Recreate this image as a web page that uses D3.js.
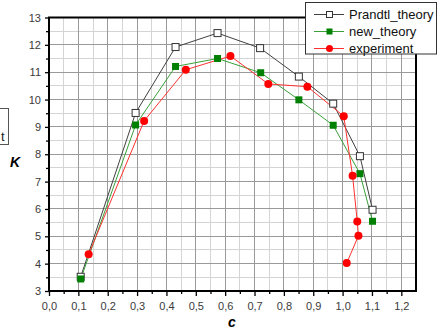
<!DOCTYPE html>
<html><head><meta charset="utf-8">
<script src="https://cdn.jsdelivr.net/npm/d3@7/dist/d3.min.js"></script>
<style>body{margin:0;background:#fff;overflow:hidden}svg{display:block}</style>
</head><body>
<svg id="chart" width="439" height="331"></svg>
<script>
const seriesNames = ["Prandtl_theory", "new_theory", "experiment"];
const prandtlC = [0.108, 0.295, 0.431, 0.574, 0.719, 0.851, 0.968, 1.059, 1.102];
const prandtlK = [3.52, 9.51, 11.92, 12.43, 11.88, 10.84, 9.85, 7.93, 5.97];
const newC = [0.108, 0.295, 0.431, 0.574, 0.721, 0.851, 0.968, 1.059, 1.102];
const newK = [3.44, 9.07, 11.21, 11.50, 10.98, 9.99, 9.06, 7.29, 5.55];
const expC = [0.135, 0.324, 0.466, 0.618, 0.747, 0.880, 1.004, 1.034, 1.050, 1.054, 1.014];
const expK = [4.34, 9.22, 11.09, 11.59, 10.57, 10.47, 9.39, 7.21, 5.54, 5.02, 4.02];
const xTicks = [0,0.1,0.2,0.3,0.4,0.5,0.6,0.7,0.8,0.9,1.0,1.1,1.2];
const yTicks = [3,4,5,6,7,8,9,10,11,12,13];

const svg = d3.select("#chart");
const x = d3.scaleLinear().domain([0,1.25]).range([49,416]);
const y = d3.scaleLinear().domain([3,13]).range([291,17.5]);
const fmt = d => d3.format(".1f")(d).replace(".", ",");

// grid
const minorX = d3.range(0.05,1.25,0.1), minorY = d3.range(3.5,13,1);
svg.append("g").selectAll("line").data(minorX).join("line")
  .attr("x1",d=>x(d)).attr("x2",d=>x(d)).attr("y1",y(3)).attr("y2",y(13))
  .attr("stroke","#d4d4d4").attr("stroke-width",1).attr("shape-rendering","crispEdges");
svg.append("g").selectAll("line").data(minorY).join("line")
  .attr("y1",d=>y(d)).attr("y2",d=>y(d)).attr("x1",x(0)).attr("x2",x(1.25))
  .attr("stroke","#d4d4d4").attr("stroke-width",1).attr("shape-rendering","crispEdges");
svg.append("g").selectAll("line").data(xTicks.slice(1)).join("line")
  .attr("x1",d=>x(d)).attr("x2",d=>x(d)).attr("y1",y(3)).attr("y2",y(13))
  .attr("stroke","#9a9a9a").attr("stroke-width",1).attr("shape-rendering","crispEdges");
svg.append("g").selectAll("line").data(yTicks.slice(1,-1)).join("line")
  .attr("y1",d=>y(d)).attr("y2",d=>y(d)).attr("x1",x(0)).attr("x2",x(1.25))
  .attr("stroke","#9a9a9a").attr("stroke-width",1).attr("shape-rendering","crispEdges");

// axes
const xAxis = d3.axisBottom(x).tickValues(xTicks).tickFormat(fmt).tickSize(5).tickPadding(6);
const gx = svg.append("g").attr("transform",`translate(0,${y(3)})`).call(xAxis);
const xMinor = d3.axisBottom(x).tickValues(minorX).tickFormat("").tickSize(3);
svg.append("g").attr("transform",`translate(0,${y(3)})`).call(xMinor).select(".domain").remove();
const yAxis = d3.axisLeft(y).tickValues(yTicks).tickFormat(d3.format("d")).tickSize(4).tickPadding(4);
const gy = svg.append("g").attr("transform",`translate(${x(0)},0)`).call(yAxis);
const yMinor = d3.axisLeft(y).tickValues(minorY).tickFormat("").tickSize(3);
svg.append("g").attr("transform",`translate(${x(0)},0)`).call(yMinor).select(".domain").remove();
svg.selectAll(".tick line").attr("stroke","#000").attr("stroke-width",1.3);
svg.selectAll(".domain").remove();
svg.selectAll(".tick text").attr("font-family","Liberation Sans, Arial, sans-serif")
  .attr("font-size","11px").attr("fill","#3a3a3a");

// frame
svg.append("rect").attr("x",x(0)).attr("y",y(13)).attr("width",x(1.25)-x(0)).attr("height",y(3)-y(13))
  .attr("fill","none").attr("stroke","#000").attr("stroke-width",2);

// series
const line = d3.line().x(d=>x(d[0])).y(d=>y(d[1]));
const sP = prandtlC.map((c,i)=>[c,prandtlK[i]]);
const sN = newC.map((c,i)=>[c,newK[i]]);
const sE = expC.map((c,i)=>[c,expK[i]]);
svg.append("path").datum(sP).attr("d",line).attr("fill","none").attr("stroke","#404040").attr("stroke-width",1);
svg.append("path").datum(sN).attr("d",line).attr("fill","none").attr("stroke","#3aa03a").attr("stroke-width",1);
svg.append("path").datum(sE).attr("d",line).attr("fill","none").attr("stroke","#ff3030").attr("stroke-width",1);
svg.append("g").selectAll("rect").data(sP).join("rect")
  .attr("x",d=>x(d[0])-3.5).attr("y",d=>y(d[1])-3.5).attr("width",7).attr("height",7)
  .attr("fill","#fff").attr("stroke","#333").attr("stroke-width",1);
svg.append("g").selectAll("rect").data(sN).join("rect")
  .attr("x",d=>x(d[0])-3.5).attr("y",d=>y(d[1])-3.5).attr("width",7).attr("height",7)
  .attr("fill","#008000");
svg.append("g").selectAll("circle").data(sE).join("circle")
  .attr("cx",d=>x(d[0])).attr("cy",d=>y(d[1])).attr("r",4).attr("fill","#ff0000");

// axis titles
svg.append("text").attr("x",15).attr("y",167).attr("text-anchor","middle")
  .attr("font-family","Liberation Sans, Arial, sans-serif").attr("font-size","14px")
  .attr("font-weight","bold").attr("font-style","italic").text("K");
svg.append("text").attr("x",232).attr("y",327).attr("text-anchor","middle")
  .attr("font-family","Liberation Sans, Arial, sans-serif").attr("font-size","14px")
  .attr("font-weight","bold").attr("font-style","italic").text("c");

// clipped box at left
svg.append("rect").attr("x",-20).attr("y",108.5).attr("width",28.5).attr("height",36)
  .attr("fill","#fff").attr("stroke","#555").attr("stroke-width",1);
svg.append("text").attr("x",1).attr("y",141)
  .attr("font-family","Liberation Sans, Arial, sans-serif").attr("font-size","13px").attr("fill","#222").text("t");

// legend
const lg = svg.append("g");
lg.append("rect").attr("x",305.5).attr("y",2.5).attr("width",131).attr("height",51.5)
  .attr("fill","#fff").attr("stroke","#333").attr("stroke-width",1);
const lcol = ["#404040","#3aa03a","#ff3030"];
seriesNames.forEach((n,i)=>{
  const cy = 14.5 + i*17;
  lg.append("line").attr("x1",314).attr("x2",344).attr("y1",cy).attr("y2",cy).attr("stroke",lcol[i]);
  if(i===0) lg.append("rect").attr("x",326.5).attr("y",cy-3).attr("width",6).attr("height",6).attr("fill","#fff").attr("stroke","#333");
  if(i===1) lg.append("rect").attr("x",326.5).attr("y",cy-3).attr("width",6).attr("height",6).attr("fill","#008000");
  if(i===2) lg.append("circle").attr("cx",329.5).attr("cy",cy).attr("r",3.5).attr("fill","#ff0000");
  lg.append("text").attr("x",349).attr("y",cy).attr("dy","0.36em")
    .attr("font-family","Liberation Sans, Arial, sans-serif").attr("font-size","13px").attr("fill","#111").text(n);
});
</script>
</body></html>
